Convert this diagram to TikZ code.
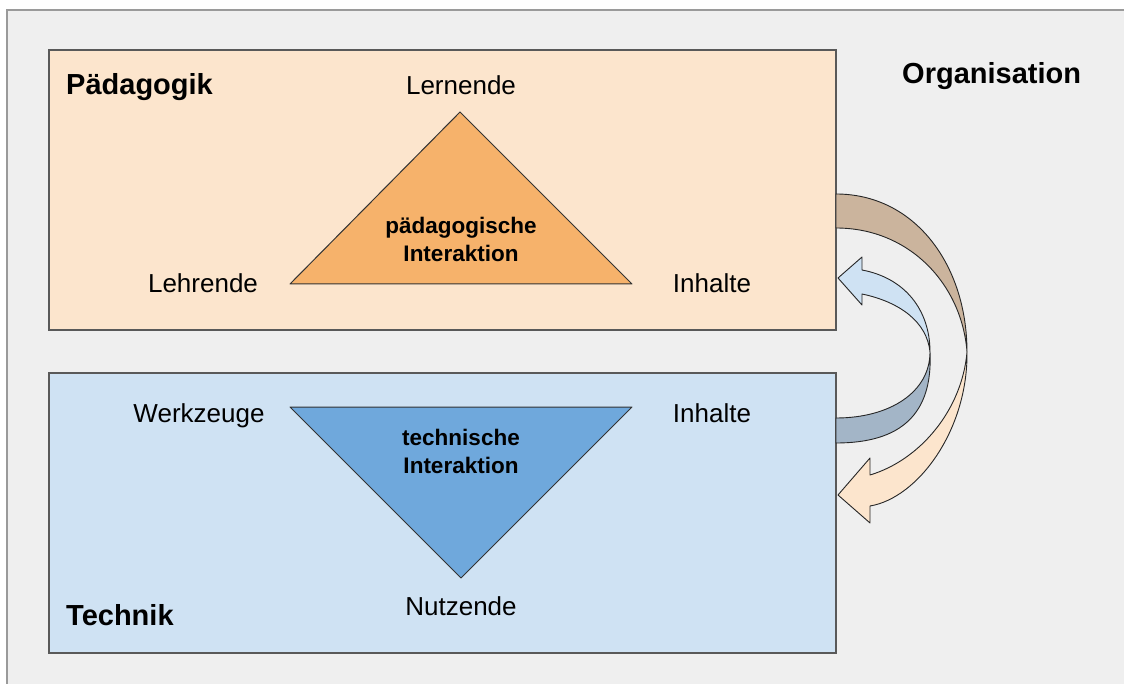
\documentclass[tikz,border=0pt]{standalone}
\usepackage{fontspec}
\setmainfont{Liberation Sans}
\definecolor{framebg}{HTML}{EFEFEF}
\definecolor{framedraw}{HTML}{9A9A9A}
\definecolor{paedbg}{HTML}{FCE5CD}
\definecolor{techbg}{HTML}{CFE2F3}
\definecolor{paedtri}{HTML}{F6B26B}
\definecolor{techtri}{HTML}{6FA8DC}
\definecolor{boxdraw}{HTML}{595959}
\definecolor{brownface}{HTML}{CBB49D}
\definecolor{blueback}{HTML}{A3B5C7}
\begin{document}
\begin{tikzpicture}[x=1pt,y=-1pt,
  areabox/.style={draw=boxdraw,line width=1.2pt},
  tri/.style={draw=black!80,line width=1pt,line join=round},
  lbl/.style={font=\fontsize{26}{30}\selectfont,inner sep=0pt},
  ttl/.style={font=\fontsize{29}{33}\selectfont\bfseries,inner sep=0pt},
  inner/.style={font=\fontsize{22.5}{28}\selectfont\bfseries,align=center,inner sep=0pt},
  ribbon/.style={draw=black!85,line width=0.9pt,line join=round}]
\useasboundingbox (0,0) rectangle (1124,684);
\fill[white] (0,0) rectangle (1124,684);
\draw[fill=framebg,draw=framedraw,line width=1.2pt] (7,10) rectangle (1140,700);
% boxes
\draw[areabox,fill=paedbg] (49,50) rectangle (836,330);
\draw[areabox,fill=techbg] (49,373) rectangle (836,653);
% triangles
\draw[tri,fill=paedtri] (460,112) -- (632,284) -- (290,284) -- cycle;
\draw[tri,fill=techtri] (290,407) -- (632,407) -- (461,578) -- cycle;
% labels
\node[ttl,anchor=base west] (paed) at (66,95) {Pädagogik};
\node[ttl,anchor=base west] (tech) at (66,625) {Technik};
\node[ttl,anchor=base west] (org) at (902,84) {Organisation};
\node[lbl,anchor=base] (lern) at (461,95) {Lernende};
\node[lbl,anchor=base] (lehr) at (203,293) {Lehrende};
\node[lbl,anchor=base] (inh1) at (712,293) {Inhalte};
\node[lbl,anchor=base] (werk) at (199,422) {Werkzeuge};
\node[lbl,anchor=base] (inh2) at (712,422) {Inhalte};
\node[lbl,anchor=base] (nutz) at (461,615) {Nutzende};
\node[inner] (pi) at (461,239) {pädagogische\\Interaktion};
\node[inner] (ti) at (461,451) {technische\\Interaktion};
% curved arrow Paedagogik -> Technik
\draw[ribbon,fill=brownface] (836,194) .. controls (915,194) and (967,265) .. (967,352)
  .. controls (962,285) and (910,228) .. (836,228) -- cycle;
\draw[ribbon,fill=paedbg] (967,352) .. controls (968,430) and (918,498) .. (870,506)
  -- (870,523) -- (838,495) -- (870,458) -- (870,475)
  .. controls (920,460) and (962,410) .. (967,352) -- cycle;
% curved arrow Technik -> Paedagogik
\draw[ribbon,fill=blueback] (836,418) .. controls (890,418) and (930,392) .. (930,352)
  .. controls (933,415) and (900,443) .. (836,443) -- cycle;
\draw[ribbon,fill=techbg] (930,352) .. controls (930,310) and (905,278) .. (862,270)
  -- (862,257) -- (838,278) -- (862,305) -- (862,294)
  .. controls (900,302) and (927,322) .. (930,352) -- cycle;
\end{tikzpicture}
\end{document}
